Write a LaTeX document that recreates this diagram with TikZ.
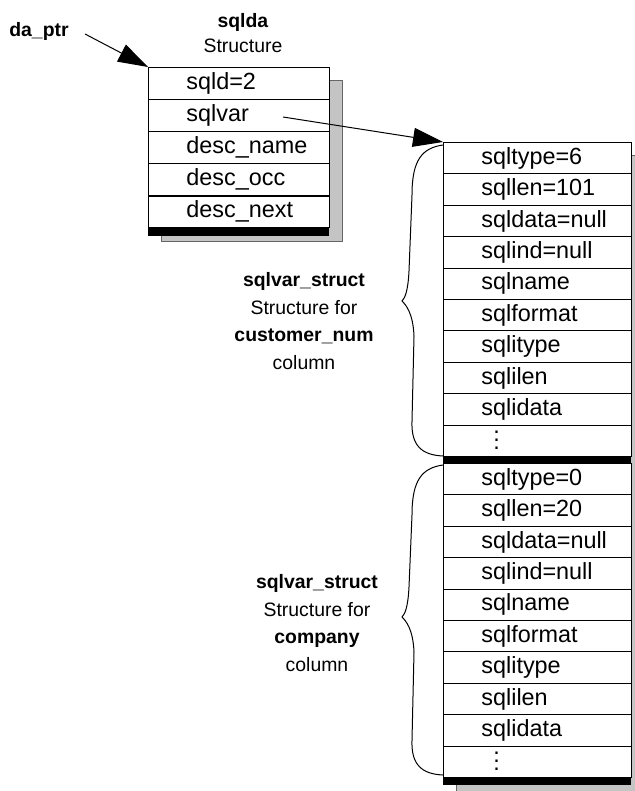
\documentclass[tikz,border=0pt]{standalone}
\usepackage{fontspec}
\setmainfont{Liberation Sans}
\usetikzlibrary{arrows.meta}

\begin{document}
\begin{tikzpicture}[x=0.5pt,y=-0.5pt,>={Triangle[length=15pt,width=9.5pt]}]
	%---------------- Colors & styles ----------------
	\definecolor{shade}{RGB}{196,196,196} % gray drop shadow
	\tikzset{
		field/.style={draw, line width=0.5pt, fill=white, anchor=north west, inner sep=0pt,
			minimum width=\boxw*0.5pt, minimum height=\rowh*0.5pt}, % one row of a structure
		fieldtext/.style={anchor=west, inner sep=0pt, xshift=19pt,
			font=\fontsize{11.7}{14}\selectfont},                   % row text
		caption/.style={align=center, inner sep=0pt},                % labels left of the boxes
		endbar/.style={fill=black},                                  % thick bar closing a structure
		shadow/.style={fill=shade, draw=black!60, line width=0.4pt},
		ptr/.style={->, line width=0.5pt},                           % pointer arrows
		brace/.style={line width=0.5pt},
	}
	
	%---------------- Positions (px, y downwards) ----------------
	\def\dx{148} % sqlda box, left
	\def\dy{67}  % sqlda box, top
	\def\sx{443} % sqlvar_struct boxes, left
	\def\sy{142} % first sqlvar_struct, top
	\def\sz{463} % second sqlvar_struct, top
	\def\more{\hspace*{6pt}\raisebox{-4.5pt}[0pt][0pt]{$\vdots$}} % last row: more fields
	
	% curly brace at the left of a sqlvar_struct: top, tip, bottom
	\def\colbrace#1#2#3{%
		\draw[brace] (443,#1) .. controls (422,#1+3) and (412,#1+15) .. (412,#1+50)
		-- (409,#2-30) .. controls (408,#2-10) and (405,#2-3) .. (402,#2)
		.. controls (406,#2+4) and (413,#2+12) .. (414,#2+35)
		-- (412,#3-35) .. controls (411,#3-10) and (422,#3-1) .. (443,#3);}
	
	\useasboundingbox (0,0) rectangle (634,791);
	
	%---------------- Shadows ----------------
	\path[shadow] (161,80) rectangle (342,241);
	\path[shadow] (456,155) rectangle (650,800); % runs off the page
	
	%---------------- sqlda structure ----------------
	\def\boxw{181}
	\def\rowh{32}
	\foreach \txt [count=\i] in {sqld=2, sqlvar, desc\_name, desc\_occ, desc\_next} {
		\node[field] (d\i) at (\dx,\dy+\rowh*\i-\rowh) {};
		\node[fieldtext] (dt\i) at (d\i.west) {\txt};
	}
	\draw[line width=1pt] (d4.south west) -- (d4.south east);
	\fill[endbar] (d5.south west) rectangle ++(181,8);
	
	%---------------- sqlvar_struct for customer_num ----------------
	\def\boxw{188}
	\def\rowh{31.4}
	\foreach \txt [count=\i] in {sqltype=6, sqllen=101, sqldata=null, sqlind=null, sqlname,
		sqlformat, sqlitype, sqlilen, sqlidata, \more} {
		\node[field] (cn\i) at (\sx,\sy+\rowh*\i-\rowh) {};
		\node[fieldtext] (cnt\i) at (cn\i.west) {\txt};
	}
	\fill[endbar] (cn10.south west) rectangle ++(188,7);
	
	%---------------- sqlvar_struct for company ----------------
	\foreach \txt [count=\i] in {sqltype=0, sqllen=20, sqldata=null, sqlind=null, sqlname,
		sqlformat, sqlitype, sqlilen, sqlidata, \more} {
		\node[field] (co\i) at (\sx,\sz+\rowh*\i-\rowh) {};
		\node[fieldtext] (cot\i) at (co\i.west) {\txt};
	}
	\fill[endbar] (co10.south west) rectangle ++(188,7);
	
	%---------------- Labels ----------------
	\node[caption, font=\bfseries\fontsize{9.7}{12}\selectfont] (daptr) at (39,31) {da\_ptr};
	\node[caption, font=\fontsize{9.7}{12.5}\selectfont] (sqlda) at (243,33)
		{\textbf{sqlda}\\Structure};
	\node[caption, font=\fontsize{9.7}{13.8}\selectfont] (cnlabel) at (304,321)
		{\textbf{sqlvar\_struct}\\Structure for\\\textbf{customer\_num}\\column};
	\node[caption, font=\fontsize{9.7}{13.8}\selectfont] (colabel) at (317,623)
		{\textbf{sqlvar\_struct}\\Structure for\\\textbf{company}\\column};
	
	%---------------- Pointers ----------------
	\coordinate (ptrtail) at (85,34);
	\coordinate (vartail) at (283,117);
	\draw[ptr] (ptrtail) -- (d1.north west);
	\draw[ptr] (vartail) -- (cn1.north west);
	
	%---------------- Braces ----------------
	\colbrace{145}{301}{456}
	\colbrace{465}{617}{775}
\end{tikzpicture}
\end{document}
